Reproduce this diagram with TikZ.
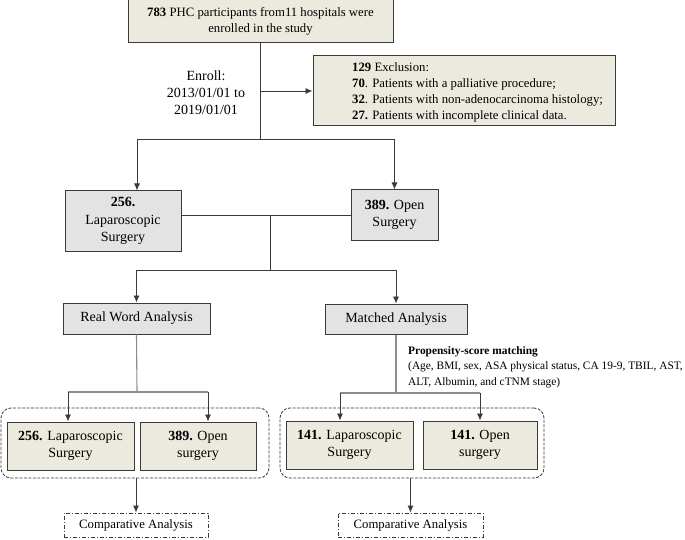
\documentclass[tikz,border=0pt]{standalone}
\usepackage{fontspec}
\setmainfont{Liberation Serif}
\usetikzlibrary{arrows.meta}
\definecolor{boxbeige}{HTML}{ECE9DF}
\definecolor{boxgrey}{HTML}{E3E3E3}
\definecolor{edgegrey}{HTML}{3A3A3A}
\definecolor{stemgrey}{HTML}{8C8C8C}

\begin{document}
\begin{tikzpicture}[x=1pt, y=-1pt, >={Latex[length=7pt,width=6pt]},
    beigebox/.style={draw=edgegrey, line width=1pt, fill=boxbeige, align=center, inner sep=0pt, font=\fontsize{14}{16.5}\selectfont},
    greybox/.style={draw=edgegrey, line width=1pt, fill=boxgrey, align=center, inner sep=0pt, font=\fontsize{14}{17.5}\selectfont},
    groupbox/.style={draw=edgegrey, line width=0.8pt, dash pattern=on 3pt off 1.5pt, rounded corners=10pt, inner sep=0pt},
    compbox/.style={draw=edgegrey, line width=0.8pt, dash pattern=on 4pt off 2pt on 1pt off 2pt, inner sep=0pt, font=\fontsize{12.75}{15}\selectfont},
    conn/.style={draw=edgegrey, line width=0.9pt},
    stem/.style={draw=stemgrey, line width=1.1pt}]

    \useasboundingbox (0,0) rectangle (685,540);

    \node[beigebox, minimum width=265pt, minimum height=43pt, font=\fontsize{12.75}{16}\selectfont] (enrol) at (260.5,21.5) {\textbf{783} PHC participants from11 hospitals were\\enrolled in the study};
    \node[beigebox, minimum width=302pt, minimum height=70pt] (excl) at (464,91) {};
    \node[anchor=west, align=left, inner sep=0pt, font=\fontsize{12.75}{16}\selectfont] (excltext) at (352,92) {\textbf{129} Exclusion:\\\textbf{70}. Patients with a palliative procedure;\\\textbf{32}. Patients with non-adenocarcinoma histology;\\\textbf{27.} Patients with incomplete clinical data.};
    \node[align=center, inner sep=0pt, font=\fontsize{14}{17}\selectfont] (period) at (206,93) {Enroll:\\2013/01/01 to\\2019/01/01};

    \node[greybox, minimum width=116pt, minimum height=60pt] (lap) at (123,221) {\textbf{256.}\\Laparoscopic\\Surgery};
    \node[greybox, minimum width=87pt, minimum height=50pt] (opn) at (394.5,215) {\textbf{389.} Open\\Surgery};

    \node[greybox, minimum width=147pt, minimum height=31pt] (real) at (136.5,318.5) {Real Word Analysis};
    \node[greybox, minimum width=142pt, minimum height=30pt] (match) at (396,319) {Matched Analysis};
    \node[anchor=west, align=left, inner sep=0pt, font=\fontsize{11.4}{15.5}\selectfont] (psm) at (408,367) {\textbf{Propensity-score matching}\\(Age, BMI, sex, ASA physical status, CA 19-9, TBIL, AST,\\ALT, Albumin, and cTNM stage)};

    \node[groupbox, minimum width=268pt, minimum height=70pt] (grpL) at (135,443) {};
    \node[groupbox, minimum width=264pt, minimum height=70pt] (grpR) at (412,443) {};
    \node[beigebox, minimum width=127pt, minimum height=48pt] (lapA) at (70.5,446) {\textbf{256.} Laparoscopic\\Surgery};
    \node[beigebox, minimum width=116pt, minimum height=48pt] (opnA) at (198,446) {\textbf{389.} Open\\surgery};
    \node[beigebox, minimum width=127pt, minimum height=48pt] (lapB) at (349.5,445) {\textbf{141.} Laparoscopic\\Surgery};
    \node[beigebox, minimum width=114pt, minimum height=48pt] (opnB) at (480,445) {\textbf{141.} Open\\surgery};

    \node[compbox, minimum width=144pt, minimum height=24pt] (compL) at (136,525) {Comparative Analysis};
    \node[compbox, minimum width=145pt, minimum height=24pt] (compR) at (410.5,525) {Comparative Analysis};

    \coordinate (fork1) at (260.5,139);
    \coordinate (fork2) at (270,270);
    \coordinate (fork3) at (137,392);
    \coordinate (fork4) at (396,393);

    \draw[conn] (enrol.south) -- (fork1);
    \draw[conn,->] (enrol.south |- excl.west) -- (excl.west);
    \draw[conn,->] (fork1) -| ([xshift=14pt]lap.north);
    \draw[conn,->] (fork1) -| (opn.north);

    \draw[conn] (opn.west -| lap.east) -- (opn.west);
    \draw[conn] (fork2 |- opn.west) -- (fork2);
    \draw[conn,->] (fork2) -| (real.north);
    \draw[conn,->] (fork2) -| (match.north);

    \draw[stem] (real.south) -- (fork3);
    \draw[stem] ([xshift=-2.5pt]lapA.north |- fork3) -- ([xshift=10pt]opnA.north |- fork3);
    \draw[conn,->] ([xshift=-2.5pt]lapA.north |- fork3) -- ([xshift=-2.5pt]lapA.north);
    \draw[conn,->] ([xshift=10pt]opnA.north |- fork3) -- ([xshift=10pt]opnA.north);

    \draw[stem] (match.south) -- (fork4);
    \draw[stem] ([xshift=-9.5pt]lapB.north |- fork4) -- (opnB.north |- fork4);
    \draw[conn,->] ([xshift=-9.5pt]lapB.north |- fork4) -- ([xshift=-9.5pt]lapB.north);
    \draw[conn,->] (opnB.north |- fork4) -- (opnB.north);

    \draw[conn,->] (grpL.south -| compL.north) -- (compL.north);
    \draw[conn,->] (grpR.south -| compR.north) -- (compR.north);
\end{tikzpicture}
\end{document}
